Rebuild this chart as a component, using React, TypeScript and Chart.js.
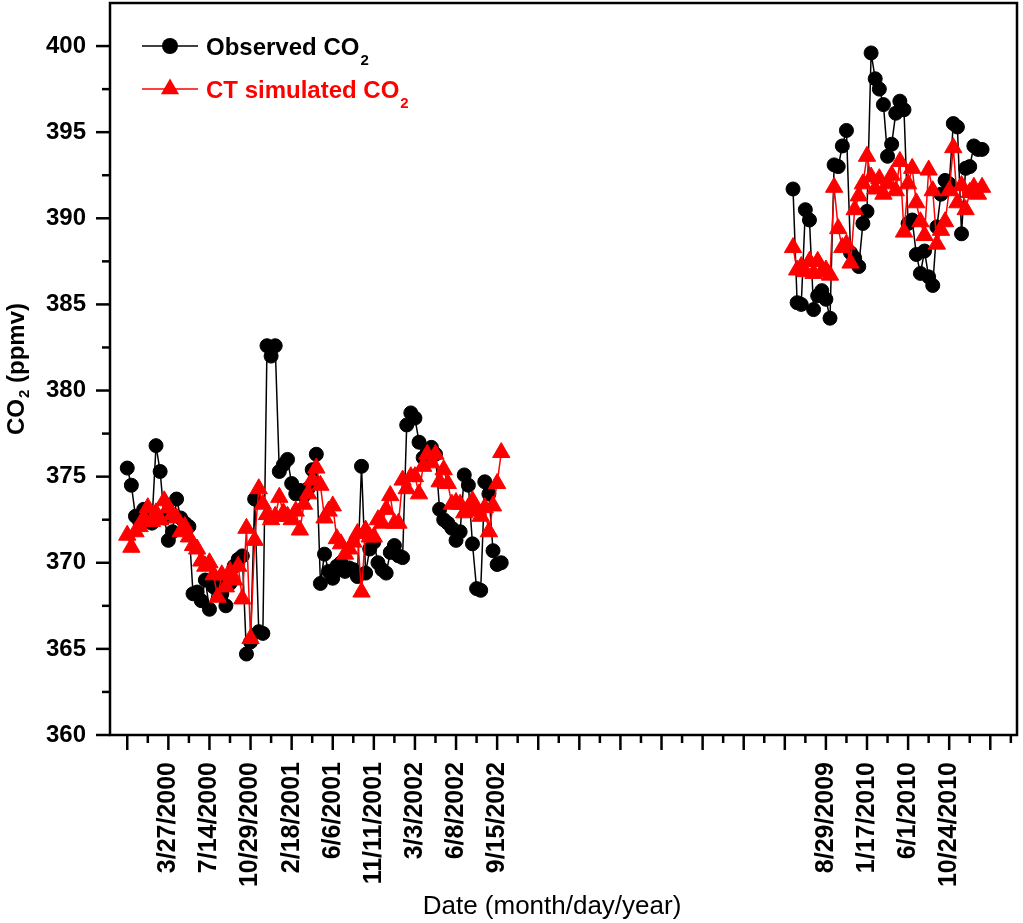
import React, { useEffect, useRef } from 'react';
import { Chart, registerables } from 'chart.js';

Chart.register(...registerables);

// Sample index axis: major ticks every 10 samples
const tickValues = [0, 10, 20, 30, 40, 50, 60, 70, 80, 90, 100, 110, 120, 130, 140, 150, 160, 170, 180, 190, 200, 210];
const tickLabels = ['', '3/27/2000', '7/14/2000', '10/29/2000', '2/18/2001', '6/6/2001', '11/11/2001', '3/3/2002', '6/8/2002', '9/15/2002', '', '', '', '', '', '', '', '8/29/2009', '1/17/2010', '6/1/2010', '10/24/2010', ''];
const yTicks = [360, 365, 370, 375, 380, 385, 390, 395, 400];

const seg1Start = 0;
const seg2Start = 162;

// Observed CO2, 2000-2002
const obs1 = [
  375.5, 374.5, 372.7, 372.4, 373.1, 372.8, 372.3, 376.8, 375.3, 372.6,
  371.3, 371.8, 373.7, 372.6, 372.3, 372.1, 368.2, 368.3, 367.8, 369.0,
  367.3, 368.6, 368.9, 368.2, 367.5, 368.8, 369.8, 370.2, 370.4, 364.7,
  365.4, 373.7, 366.0, 365.9, 382.6, 382.0, 382.6, 375.3, 375.7, 376.0,
  374.6, 374.0, 374.2, 373.9, 374.3, 375.4, 376.3, 368.8, 370.5, 369.5,
  369.1, 369.8, 370.0, 369.5, 369.7, 369.6, 369.2, 375.6, 369.4, 370.8,
  371.2, 370.0, 369.6, 369.4, 370.6, 371.0, 370.4, 370.3, 378.0, 378.7,
  378.4, 377.0, 376.1, 376.4, 376.7, 376.3, 373.1, 372.5, 372.3, 372.0,
  371.3, 371.8, 375.1, 374.5, 371.1, 368.5, 368.4, 374.7, 374.0, 370.7,
  369.9, 370.0,
];

// CT simulated CO2, 2000-2002
const sim1 = [
  371.6, 370.9, 371.8, 372.1, 372.6, 373.2, 372.4, 372.9, 372.5, 373.6,
  373.2, 372.8, 372.6, 371.8, 372.1, 371.5, 371.0, 370.8, 370.1, 369.8,
  370.0, 369.3, 368.0, 369.3, 368.6, 369.5, 369.0, 369.8, 367.9, 372.0,
  365.6, 371.3, 374.3, 373.4, 372.8, 372.5, 372.7, 373.8, 372.9, 372.7,
  372.5, 373.0, 371.9, 373.4, 374.0, 374.8, 375.5, 374.5, 372.6, 373.0,
  373.3, 371.4, 371.1, 370.5, 370.8, 371.2, 371.7, 368.3, 371.9, 371.5,
  371.5, 372.5, 372.3, 373.1, 373.9, 372.3, 372.3, 374.8, 374.3, 375.0,
  375.0, 374.0, 375.6, 376.3, 375.8, 376.3, 374.7, 375.4, 374.6, 373.4,
  373.5, 373.4, 372.9, 373.2, 373.6, 373.0, 372.7, 373.2, 371.8, 373.3,
  374.6, 376.4,
];

// Observed CO2, 2009-2010
const obs2 = [
  391.7, 385.1, 385.0, 390.5, 389.9, 384.7, 385.5, 385.8, 385.3, 384.2,
  393.1, 393.0, 394.2, 395.1, 388.0, 387.7, 387.2, 389.7, 390.4, 399.6,
  398.1, 397.5, 396.6, 393.6, 394.3, 396.1, 396.8, 396.3, 389.7, 389.9,
  387.9, 386.8, 388.1, 386.6, 386.1, 389.5, 391.4, 392.2, 392.0, 395.5,
  395.3, 389.1, 392.9, 393.0, 394.2, 394.0, 394.0,
];

// CT simulated CO2, 2009-2010
const sim2 = [
  388.3, 387.0, 387.2, 386.9, 387.5, 386.8, 387.5, 386.9, 387.0, 386.7,
  391.8, 389.4, 388.3, 388.5, 387.4, 390.5, 391.3, 392.0, 393.6, 392.4,
  391.7, 392.3, 391.4, 392.0, 392.5, 391.6, 393.3, 389.2, 392.0, 392.9,
  390.9, 389.8, 389.0, 392.8, 391.6, 388.5, 389.3, 389.8, 391.6, 394.1,
  390.9, 391.9, 390.5, 391.5, 391.8, 391.4, 391.8,
];

const FONT = "'Liberation Sans', Arial, Helvetica, sans-serif";
const RED = '#ff0000';
const BLACK = '#000000';

const toPoints = (start: number, vals: number[]) => vals.map((v, i) => ({ x: start + i, y: v }));

const zeroPad = (s: any) => {
  s.paddingLeft = 0;
  s.paddingRight = 0;
  s.paddingTop = 0;
  s.paddingBottom = 0;
};

const decorPlugin = {
  id: 'decor',
  afterDraw(chart: any) {
    const { ctx, chartArea: a, scales } = chart;
    const xs = scales.x;
    const ys = scales.y;
    ctx.save();
    ctx.strokeStyle = BLACK;
    ctx.lineWidth = 2.5;
    ctx.lineCap = 'butt';
    // frame
    ctx.strokeRect(a.left, a.top, a.right - a.left, a.bottom - a.top);
    // x ticks (major + minor)
    const step = tickValues[1] - tickValues[0];
    tickValues.forEach((v) => {
      const px = xs.getPixelForValue(v);
      ctx.beginPath();
      ctx.moveTo(px, a.bottom);
      ctx.lineTo(px, a.bottom + 15);
      ctx.stroke();
      const m = v + step / 2;
      if (m <= xs.max) {
        const pm = xs.getPixelForValue(m);
        ctx.beginPath();
        ctx.moveTo(pm, a.bottom);
        ctx.lineTo(pm, a.bottom + 8);
        ctx.stroke();
      }
    });
    // y ticks
    const ystep = yTicks[1] - yTicks[0];
    yTicks.forEach((v) => {
      const py = ys.getPixelForValue(v);
      ctx.beginPath();
      ctx.moveTo(a.left, py);
      ctx.lineTo(a.left - 14, py);
      ctx.stroke();
      const m = v + ystep / 2;
      if (m < ys.max) {
        const pm = ys.getPixelForValue(m);
        ctx.beginPath();
        ctx.moveTo(a.left, pm);
        ctx.lineTo(a.left - 8, pm);
        ctx.stroke();
      }
    });

    // legend
    const lx = a.left + 32;
    const lw = 56;
    const r1 = a.top + 43;
    const r2 = a.top + 86;
    ctx.lineWidth = 1.5;
    ctx.strokeStyle = BLACK;
    ctx.beginPath();
    ctx.moveTo(lx, r1);
    ctx.lineTo(lx + lw, r1);
    ctx.stroke();
    ctx.fillStyle = BLACK;
    ctx.beginPath();
    ctx.arc(lx + lw / 2, r1, 8, 0, Math.PI * 2);
    ctx.fill();
    ctx.strokeStyle = RED;
    ctx.beginPath();
    ctx.moveTo(lx, r2);
    ctx.lineTo(lx + lw, r2);
    ctx.stroke();
    ctx.fillStyle = RED;
    const cx = lx + lw / 2;
    const tr = 10.5;
    ctx.beginPath();
    ctx.moveTo(cx, r2 - tr);
    ctx.lineTo(cx + tr * 0.866, r2 + tr * 0.5);
    ctx.lineTo(cx - tr * 0.866, r2 + tr * 0.5);
    ctx.closePath();
    ctx.fill();

    const drawSub = (main: string, sub: string, rest: string, x: number, y: number, color: string, size: number, subSize: number, subDy: number, weight: string) => {
      ctx.fillStyle = color;
      ctx.textBaseline = 'alphabetic';
      ctx.textAlign = 'left';
      ctx.font = `${weight} ${size}px ${FONT}`;
      ctx.fillText(main, x, y);
      const w1 = ctx.measureText(main).width;
      ctx.font = `${weight} ${subSize}px ${FONT}`;
      ctx.fillText(sub, x + w1 + 1, y + subDy);
      const w2 = ctx.measureText(sub).width;
      if (rest) {
        ctx.font = `${weight} ${size}px ${FONT}`;
        ctx.fillText(rest, x + w1 + 1 + w2, y);
      }
    };
    drawSub('Observed CO', '2', '', a.left + 96, a.top + 52, BLACK, 24, 15, 10, 'bold');
    drawSub('CT simulated CO', '2', '', a.left + 96, a.top + 95, RED, 24, 15, 10, 'bold');

    // y axis title
    ctx.save();
    ctx.font = `bold 24px ${FONT}`;
    const wa = ctx.measureText('CO').width;
    const wc = ctx.measureText(' (ppmv)').width;
    ctx.font = `bold 15px ${FONT}`;
    const wb = ctx.measureText('2').width + 1;
    const total = wa + wb + wc;
    const midY = (a.top + a.bottom) / 2;
    ctx.translate(24, midY + total / 2);
    ctx.rotate(-Math.PI / 2);
    drawSub('CO', '2', ' (ppmv)', 0, 0, BLACK, 24, 15, 5, 'bold');
    ctx.restore();

    // x axis title
    ctx.fillStyle = BLACK;
    ctx.font = `normal 26px ${FONT}`;
    ctx.textAlign = 'center';
    ctx.textBaseline = 'alphabetic';
    ctx.fillText('Date (month/day/year)', 552, 914);
    ctx.restore();
  },
};

export default function App() {
  const ref = useRef<HTMLCanvasElement>(null);
  useEffect(() => {
    document.body.style.margin = '0';
    const lineCommon = { showLine: true, borderWidth: 1.5, pointBorderWidth: 1 };
    const chart = new Chart(ref.current as HTMLCanvasElement, {
      type: 'scatter',
      data: {
        datasets: [
          { ...lineCommon, label: 'CT simulated CO2', data: toPoints(seg1Start, sim1), borderColor: RED, backgroundColor: RED, pointBackgroundColor: RED, pointBorderColor: RED, pointStyle: 'triangle', pointRadius: 10 },
          { ...lineCommon, label: 'CT simulated CO2 (2009-2010)', data: toPoints(seg2Start, sim2), borderColor: RED, backgroundColor: RED, pointBackgroundColor: RED, pointBorderColor: RED, pointStyle: 'triangle', pointRadius: 10 },
          { ...lineCommon, label: 'Observed CO2', data: toPoints(seg1Start, obs1), borderColor: BLACK, backgroundColor: BLACK, pointBackgroundColor: BLACK, pointBorderColor: BLACK, pointStyle: 'circle', pointRadius: 7 },
          { ...lineCommon, label: 'Observed CO2 (2009-2010)', data: toPoints(seg2Start, obs2), borderColor: BLACK, backgroundColor: BLACK, pointBackgroundColor: BLACK, pointBorderColor: BLACK, pointStyle: 'circle', pointRadius: 7 },
        ],
      } as any,
      options: {
        responsive: false,
        animation: false,
        layout: { autoPadding: false, padding: { top: 3, right: 6, left: 0, bottom: 0 } },
        plugins: { legend: { display: false }, tooltip: { enabled: false } },
        scales: {
          x: {
            type: 'linear',
            min: -4.2,
            max: 216.5,
            afterBuildTicks: (s: any) => {
              s.ticks = tickValues.map((v) => ({ value: v }));
            },
            afterFit: (s: any) => {
              s.height = 188;
              zeroPad(s);
            },
            grid: { display: false, drawTicks: false },
            border: { display: false },
            ticks: {
              autoSkip: false,
              minRotation: 90,
              maxRotation: 90,
              padding: 27,
              color: BLACK,
              font: { family: FONT, size: 25, weight: 'bold' },
              callback: (value: any) => {
                const k = tickValues.indexOf(Number(value));
                return k >= 0 ? tickLabels[k] : '';
              },
            },
          },
          y: {
            type: 'linear',
            min: 360,
            max: 402.5,
            afterBuildTicks: (s: any) => {
              s.ticks = yTicks.map((v) => ({ value: v }));
            },
            afterFit: (s: any) => {
              s.width = 110;
              zeroPad(s);
            },
            grid: { display: false, drawTicks: false },
            border: { display: false },
            ticks: {
              padding: 24,
              color: BLACK,
              font: { family: FONT, size: 24, weight: 'bold' },
              callback: (value: any) => String(value),
            },
          },
        },
      } as any,
      plugins: [decorPlugin],
    });
    return () => chart.destroy();
  }, []);
  return <canvas ref={ref} width={1023} height={923} style={{ display: 'block' }} />;
}
